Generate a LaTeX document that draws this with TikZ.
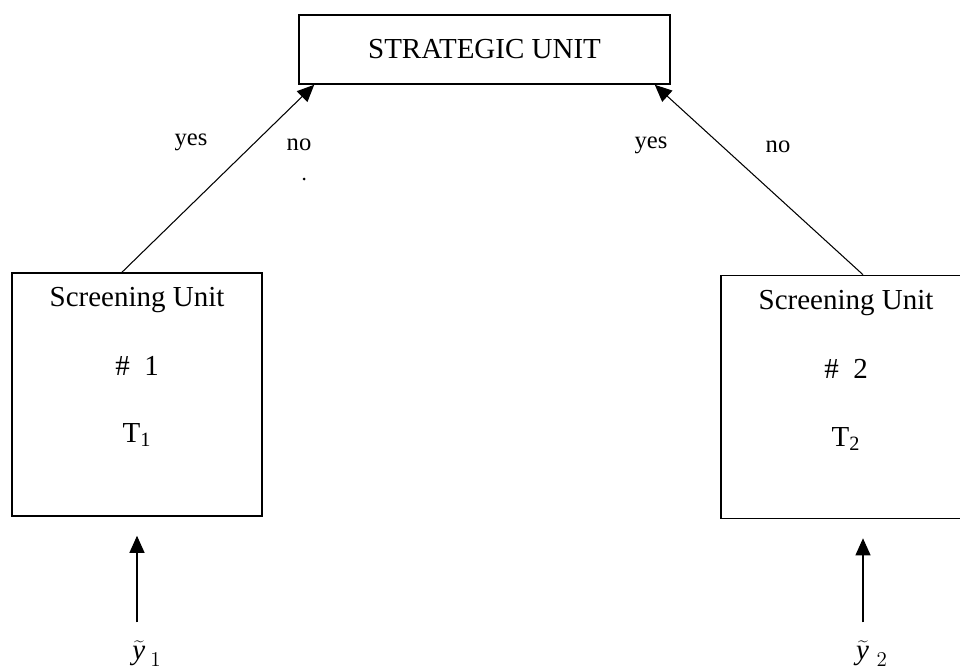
\documentclass[tikz,border=0pt]{standalone}
\usepackage{fontspec}
\setmainfont{Liberation Serif}
\usetikzlibrary{positioning,arrows.meta}

\begin{document}
\begin{tikzpicture}[
  unit/.style={draw, line width=0.9pt, minimum width=5cm, minimum height=4.86cm},
  flow/.style={-{Triangle[length=0.34cm,width=0.3cm]}, line width=0.6pt},
  answer/.style={font=\fontsize{14}{17}\selectfont},
  font=\fontsize{16.5}{20}\selectfont]

\useasboundingbox (0,0) rectangle (19.2,13.38);
\clip (0,0) rectangle (19.2,13.38);

% Strategic unit on top
\node[draw, line width=0.9pt, minimum width=7.42cm, minimum height=1.38cm] (strat) at (9.69,12.39) {STRATEGIC UNIT};

% Screening unit 1 (box, then its three lines)
\node[unit] (scr1) at (2.74,5.49) {};
\node (name1) at (2.74,7.38) {Screening Unit};
\node (num1) at (2.74,6.06) {\#~~1};
\node (thr1) at (2.74,4.68) {T\textsubscript{1}};

% Screening unit 2 (runs off the right edge)
\node[unit] (scr2) at (16.92,5.44) {};
\node (name2) at (16.92,7.32) {Screening Unit};
\node (num2) at (16.92,6.00) {\#~~2};
\node (thr2) at (16.92,4.60) {T\textsubscript{2}};

% Inputs
\node (y1) at (2.94,0.30) {$\widetilde{\textit{y}\kern1pt}_{\,1}$};
\node (y2) at (17.44,0.30) {$\widetilde{\textit{y}\kern1pt}_{\;2}$};

% yes / no labels
\node[answer] (yes1) at (3.82,10.54) {yes};
\node[answer] (no1) at (5.98,10.48) {no};
\node[answer] (yes2) at (13.02,10.48) {yes};
\node[answer] (no2) at (15.56,10.44) {no};
\fill (6.08,9.80) circle (0.03);

% Arrows up to the strategic unit
\draw[flow] ([xshift=-0.3cm]scr1.north) -- ([xshift=0.32cm]strat.south west);
\draw[flow] ([xshift=0.34cm]scr2.north) -- ([xshift=-0.32cm]strat.south east);

% Arrows from the inputs
\draw[flow] ([yshift=0.25cm]y1.north -| scr1.south) -- ([yshift=-0.38cm]scr1.south);
\draw[flow] ([xshift=0.34cm,yshift=0.25cm]y2.north -| scr2.south) -- ([xshift=0.34cm,yshift=-0.38cm]scr2.south);

\end{tikzpicture}
\end{document}
